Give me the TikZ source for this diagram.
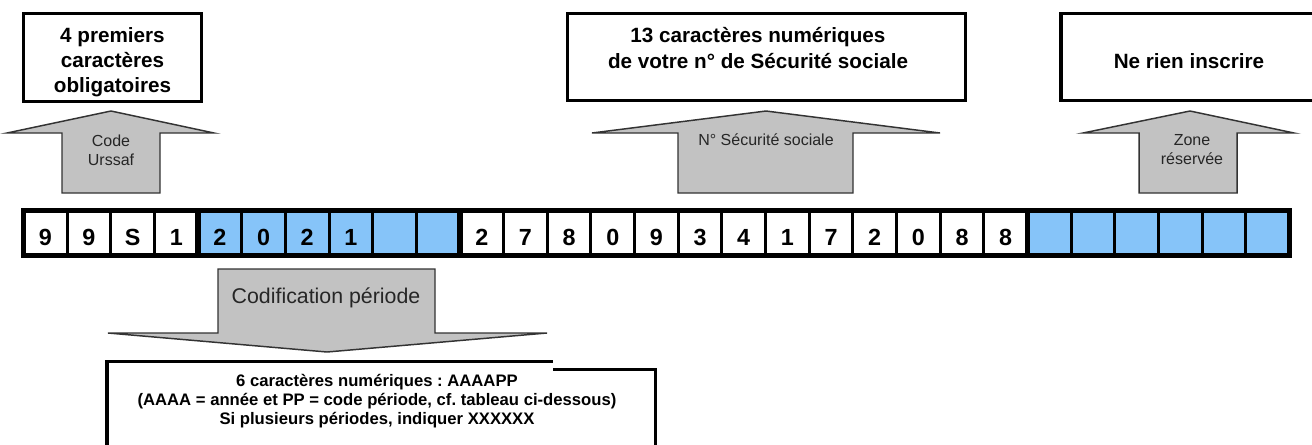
\documentclass[tikz,border=0pt]{standalone}
\usepackage{fontspec}
\setmainfont{Liberation Sans}
\usepackage{tikz}
\usepackage{xcolor}
\definecolor{cellblue}{RGB}{134,196,249}
\definecolor{arrowgray}{RGB}{194,194,194}
\frenchspacing

\begin{document}
\begin{tikzpicture}[x=0.75pt,y=-0.75pt,
  boxline/.style={line width=2.6pt},
  boxtext/.style={align=center,inner sep=0pt,font=\bfseries\fontsize{15.5}{18.8}\selectfont},
  bigarrow/.style={fill=arrowgray,draw=black!80,line width=1.1pt},
  arrowtext/.style={align=center,inner sep=0pt,text=black!85,font=\fontsize{12}{14.3}\selectfont},
  digit/.style={inner sep=0pt,font=\bfseries\fontsize{17.5}{17.5}\selectfont}]
\useasboundingbox (0,0) rectangle (1312,444);
\def\cw{43.65}

% top boxes
\draw[boxline] (23.75,13.75) rectangle (201.25,101.25);
\node[boxtext] (oblig) at (112.5,62) {4 premiers\\caractères\\obligatoires};
\draw[boxline] (567.75,13.75) rectangle (965.25,100.25);
\node[boxtext] (numsecu) at (758,48) {13 caractères numériques\\de votre n° de Sécurité sociale};
\draw[boxline] (1330,13.75) -- (1060.75,13.75) -- (1060.75,100.25) -- (1330,100.25);
\node[boxtext] (rien) at (1189,61) {Ne rien inscrire};

% up arrows
\foreach \L/\sL/\cx/\sR/\R in {7/62/111/160/214, 592/678/766/853/940, 1083/1139/1190/1237/1294}
  \draw[bigarrow] (\L,133) -- (\cx,111) -- (\R,133) -- (\sR,133) -- (\sR,193) -- (\sL,193) -- (\sL,133) -- cycle;
\node[arrowtext] (urssaf) at (111,150) {Code\\Urssaf};
\node[arrowtext] (secu) at (766,140) {N° Sécurité sociale};
\node[arrowtext] (zone) at (1192,150) {Zone\\réservée};

% row of characters
\fill[cellblue] ({23.5+4*\cw},210) rectangle ({23.5+10*\cw},255);
\fill[cellblue] ({23.5+23*\cw},210) rectangle ({23.5+29*\cw},255);
\foreach \k in {1,...,28}
  \draw[line width=2.25pt] ({23.5+\k*\cw},210) -- ({23.5+\k*\cw},255);
\foreach \k in {4,10,23}
  \draw[line width=4.1pt] ({23.5+\k*\cw},210) -- ({23.5+\k*\cw},255);
\draw[line width=3.75pt] (23.5,210) rectangle ({23.5+29*\cw},255);
\foreach \ch [count=\i] in {9,9,S,1,2,0,2,1,{},{},2,7,8,0,9,3,4,1,7,2,0,8,8,{},{},{},{},{},{}}
  \node[digit] (c\i) at ({23.5+(\i-0.5)*\cw},237.5) {\ch};

% down arrow
\draw[bigarrow] (218,269) -- (435,269) -- (435,333) -- (547,333) -- (327,352) -- (108,333) -- (218,333) -- cycle;
\node[arrowtext,font=\fontsize{16}{19}\selectfont] (periode) at (326,298) {Codification période};

% bottom box
\draw[line width=2.3pt] (107,450) -- (107,361.5) -- (553,361.5);
\draw[line width=2.3pt] (553,369.5) -- (655.5,369.5) -- (655.5,450);
\node[align=center,inner sep=0pt,font=\bfseries\fontsize{12.5}{14.1}\selectfont] (aaaapp) at (377,401)
  {6 caractères numériques : AAAAPP\\(AAAA = année et PP = code période, cf. tableau ci-dessous)\\Si plusieurs périodes, indiquer XXXXXX};

\end{tikzpicture}
\end{document}
